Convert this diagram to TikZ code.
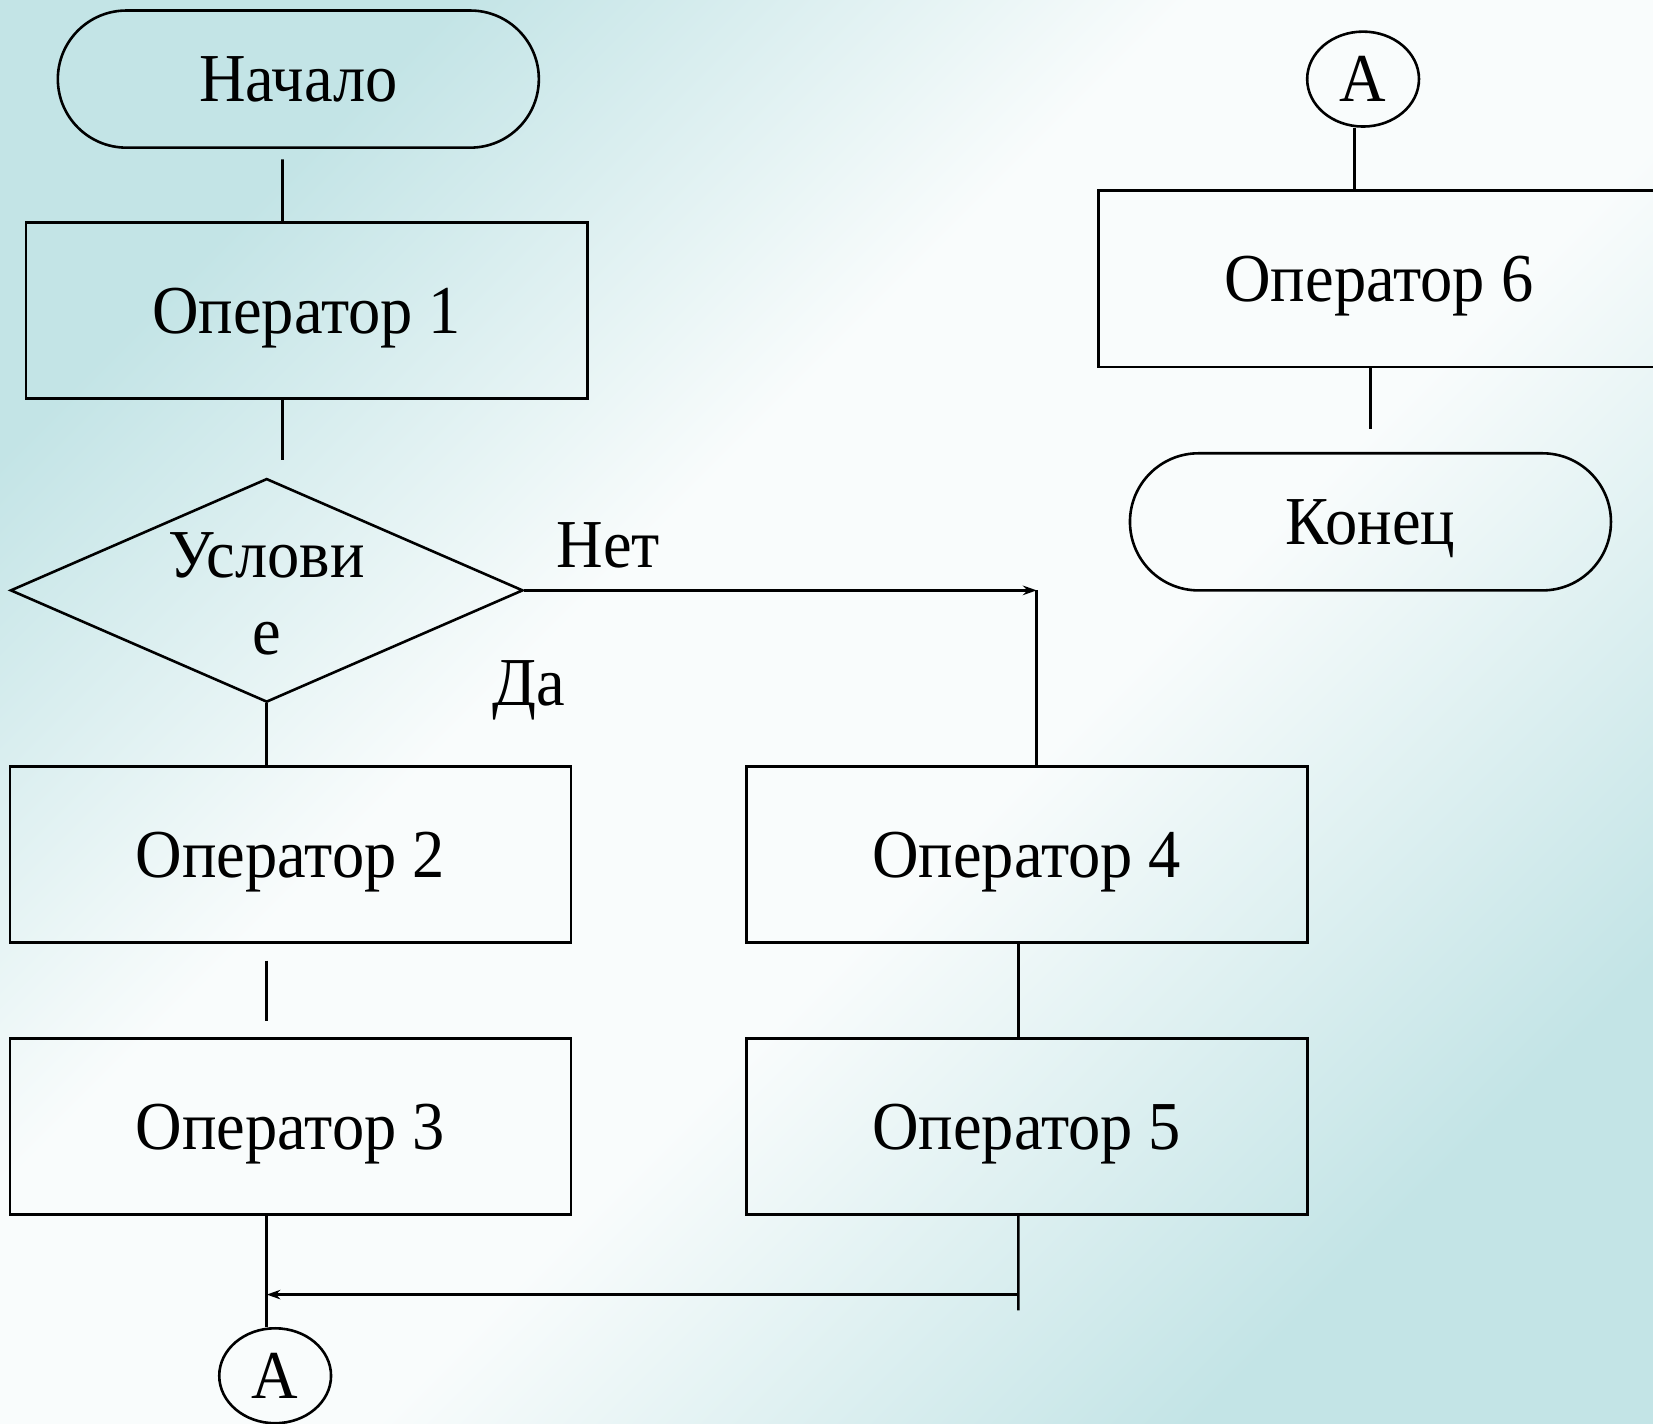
\documentclass[tikz,border=0pt]{standalone}
\usepackage{fontspec}
\setmainfont{Liberation Serif}[FakeStretch=0.94]
\usepackage{tikz}
\usetikzlibrary{calc,positioning,arrows,shapes,shapes.misc,shapes.geometric}
\usetikzlibrary{arrows.meta}
\definecolor{bgteal}{RGB}{195,228,230}
\definecolor{bgwhite}{RGB}{249,252,252}
\pgfdeclareverticalshading{bgdiag}{100bp}{color(0bp)=(bgteal); color(25bp)=(bgteal); color(44bp)=(bgwhite); color(58bp)=(bgwhite); color(75bp)=(bgteal); color(100bp)=(bgteal)}
\tikzstyle{term}      = [rounded rectangle, draw, minimum width=4.56cm, minimum height=1.3cm, inner sep=0pt, text depth=0pt]
\tikzstyle{process}   = [rectangle, draw, minimum width=5.32cm, minimum height=1.67cm, inner sep=0pt, text depth=0pt]
\tikzstyle{decision}  = [diamond, draw, aspect=2.3, minimum width=4.86cm, minimum height=2.12cm, inner sep=0pt, align=center]
\tikzstyle{connector} = [ellipse, draw, minimum width=1.06cm, minimum height=0.9cm, inner sep=0pt]
\tikzstyle{arrow}     = [->,>={Stealth[length=0.13cm,width=0.09cm]}]

\begin{document}
\begin{tikzpicture}[x=0.01cm, y=-0.01cm, line width=0.7pt,
			font=\fontsize{18.5}{22}\selectfont]

		\useasboundingbox (0,0) rectangle (1568,1350);
		\shade[shading=bgdiag, shading angle=45] (0,0) rectangle (1568,1350);

		\node[term]      (start)  at (283,75)      {Начало};
		\node[process]   (op1)    at (291,294.5)   {Оператор 1};
		\node[decision]  (cond)   at (253,560)     {\raisebox{-1pt}[\height][\depth]{Услови}\\[-1.2pt]\raisebox{-1pt}[\height][\depth]{е}};
		\node[process]   (op2)    at (275.5,810.5) {Оператор 2};
		\node[process]   (op3)    at (275.5,1068.5){Оператор 3};
		\node[process]   (op4)    at (974,810.5)   {Оператор 4};
		\node[process]   (op5)    at (974,1068.5)  {Оператор 5};
		\node[connector] (conA)   at (261,1305)    {А};
		\node[connector] (conB)   at (1293,75)     {А};
		\node[process]   (op6)    at (1308,264.5)  {Оператор 6};
		\node[term]      (finish) at (1300,495)    {Конец};
		\node (no)  at (577,517) {Нет};
		\node (yes) at (502,655) {Да};

		\coordinate (turn)  at ($(cond.east)+(486,0)$);
		\coordinate (merge) at (253,1228);
		\coordinate (tail)  at (966,1243);

		\draw[shorten <=0.1cm] ([xshift=-0.15cm]start.south) -- ([xshift=-0.23cm]op1.north);
		\draw[shorten >=0.16cm] ([xshift=-0.23cm]op1.south) -- ([xshift=-0.23cm]op1.south |- cond.north);
		\draw[arrow] (cond.east) -- (turn);
		\draw (turn) -- (turn |- op4.north);
		\draw (cond.south) -- (cond.south |- op2.north);
		\draw[shorten <=0.16cm, shorten >=0.15cm] ([xshift=-0.225cm]op2.south) -- ([xshift=-0.225cm]op3.north);
		\draw ([xshift=-0.08cm]op4.south) -- ([xshift=-0.08cm]op5.north);
		\draw ([xshift=-0.08cm]op5.south) -- (tail);
		\draw[arrow] (tail |- merge) -- (merge);
		\draw ([xshift=-0.225cm]op3.south) -- ([xshift=-0.225cm]op3.south |- conA.north);
		\draw ([xshift=-0.08cm]conB.south) -- ([xshift=-0.08cm]conB.south |- op6.north);
		\draw[shorten >=0.22cm] ([xshift=-0.08cm]op6.south) -- (finish.north);
	\end{tikzpicture}
\end{document}
